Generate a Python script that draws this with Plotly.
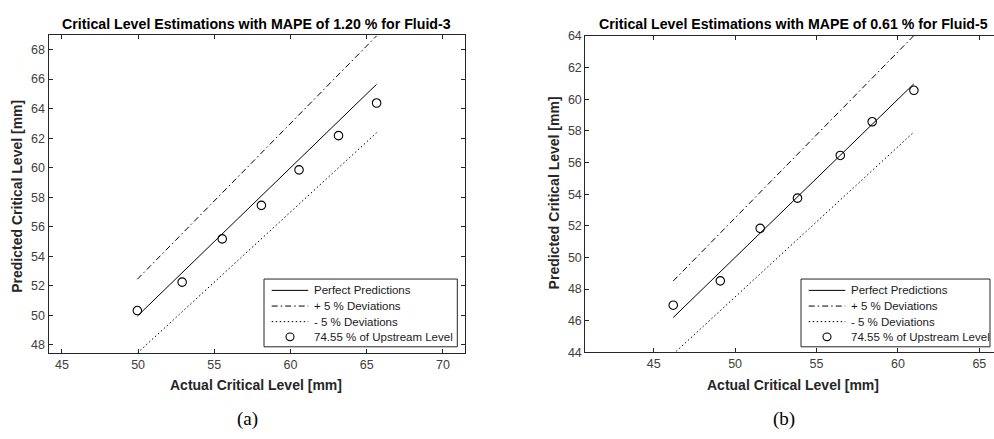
import plotly.graph_objects as go

W, H = 994, 439

# ---------------- data ----------------
# Fluid-3 (panel a)
a_actual = [49.95, 52.89, 55.52, 58.09, 60.56, 63.15, 65.65]
a_pred = [50.33, 52.25, 55.18, 57.45, 59.85, 62.17, 64.38]
a_line_x = [49.95, 65.65]
a_perfect_y = [49.95, 65.65]
a_plus_y = [52.45, 68.93]
a_minus_y = [47.45, 62.37]

# Fluid-5 (panel b)
b_actual = [46.20, 49.09, 51.54, 53.83, 56.46, 58.42, 60.98]
b_pred = [46.98, 48.52, 51.84, 53.75, 56.45, 58.58, 60.57]
b_line_x = [46.20, 60.98]
b_perfect_y = [46.20, 60.98]
b_plus_y = [48.51, 64.03]
b_minus_y = [43.89, 57.93]

a_xticks = [45, 50, 55, 60, 65, 70]
a_yticks = [48, 50, 52, 54, 56, 58, 60, 62, 64, 66, 68]
b_xticks = [45, 50, 55, 60, 65]
b_yticks = [44, 46, 48, 50, 52, 54, 56, 58, 60, 62, 64]

titles = ["Critical Level Estimations with MAPE of 1.20 % for Fluid-3",
          "Critical Level Estimations with MAPE of 0.61 % for Fluid-5"]
names = ["Perfect Predictions", "+ 5 % Deviations", "- 5 % Deviations",
         "74.55 % of Upstream Level"]
xlabel = "Actual Critical Level [mm]"
ylabel = "Predicted Critical Level [mm]"
captions = ["(a)", "(b)"]

# ---------------- helpers ----------------
def px(x):
    return x / W

def py(y):
    return 1 - y / H

FONT = "Liberation Sans, Arial, sans-serif"
AX = "#262626"
TXT = "#404040"
DASHDOT = "6px,3px,1.5px,3px"
DOT = "1.5px,2.5px"
styles = [dict(color="black", width=1),
          dict(color="black", width=1, dash=DASHDOT),
          dict(color="black", width=1, dash=DOT)]

fig = go.Figure()

def add_panel(xa, ya, lx, perf, plus, minus, act, pred):
    for yy, nm, st in zip([perf, plus, minus], names[:3], styles):
        fig.add_trace(go.Scatter(x=lx, y=yy, name=nm, mode="lines", xaxis=xa, yaxis=ya,
                                 line=st, hoverinfo="skip", showlegend=False))
    fig.add_trace(go.Scatter(x=act, y=pred, name=names[3], mode="markers",
                             xaxis=xa, yaxis=ya, showlegend=False,
                             marker=dict(symbol="circle-open", size=8.5,
                                         color="black", line=dict(width=1.1))))

add_panel("x", "y", a_line_x, a_perfect_y, a_plus_y, a_minus_y, a_actual, a_pred)
add_panel("x2", "y2", b_line_x, b_perfect_y, b_plus_y, b_minus_y, b_actual, b_pred)

axis_common = dict(showgrid=False, zeroline=False, showline=True, linecolor=AX,
                   linewidth=1, ticks="inside", ticklen=4, tickcolor=AX,
                   tickfont=dict(family=FONT, size=12.5, color=TXT))

# panel geometry (pixels)
aL, aR, aT, aB = 48.5, 465, 29, 357
bL, bR, bT, bB = 585.3, 994, 30, 356.7

fig.update_layout(
    width=W, height=H,
    margin=dict(l=0, r=0, t=0, b=0),
    paper_bgcolor="white", plot_bgcolor="white",
    showlegend=False,
    xaxis=dict(domain=[px(aL), px(aR)], range=[44.12, 71.45], tickvals=a_xticks,
               mirror="ticks", anchor="y", **axis_common),
    yaxis=dict(domain=[py(aB), py(aT)], range=[47.48, 68.98], tickvals=a_yticks,
               mirror="ticks", anchor="x", **axis_common),
    xaxis2=dict(domain=[px(bL), 1.0], range=[40.8, 65.9], tickvals=b_xticks,
                mirror="ticks", anchor="y2", **axis_common),
    yaxis2=dict(domain=[py(bB), py(bT)], range=[44, 64], tickvals=b_yticks,
                mirror=False, anchor="x2", **axis_common),
)

ann = []
shapes = []

# ---- legends (drawn as boxes with samples + text) ----
def legend_box(x0, x1, y0, y1, s0, s1, tx):
    shapes.append(dict(type="rect", xref="paper", yref="paper", layer="above",
                       x0=px(x0), x1=px(x1), y0=py(y1), y1=py(y0),
                       fillcolor="white", line=dict(color=AX, width=1)))
    rows = [y0 + 11.7, y0 + 27.9, y0 + 44.0, y0 + 59.7]
    for i in range(3):
        shapes.append(dict(type="line", xref="paper", yref="paper", layer="above",
                           x0=px(s0), x1=px(s1), y0=py(rows[i]), y1=py(rows[i]),
                           line=styles[i]))
    cx = (s0 + s1) / 2
    r = 4
    shapes.append(dict(type="circle", xref="paper", yref="paper", layer="above",
                       x0=px(cx - r), x1=px(cx + r), y0=py(rows[3] + r), y1=py(rows[3] - r),
                       line=dict(color="black", width=1.1)))
    for nm, ry in zip(names, rows):
        ann.append(dict(text=nm, x=px(tx), y=py(ry), xref="paper", yref="paper",
                        showarrow=False, xanchor="left", yanchor="middle",
                        font=dict(family=FONT, size=11.5, color="#1a1a1a")))

legend_box(264, 457.3, 281, 351, 271.7, 308.3, 312)
legend_box(801, 990, 281, 351, 808.7, 845.3, 849)

# titles
for t, cx in zip(titles, [(aL + aR) / 2, 793.5]):
    ann.append(dict(text="<b>%s</b>" % t, x=px(cx), y=py(18), xref="paper", yref="paper",
                    showarrow=False, xanchor="center", yanchor="middle",
                    font=dict(family=FONT, size=14.2, color="black")))
# x labels
for cx in [256, 793]:
    ann.append(dict(text="<b>%s</b>" % xlabel, x=px(cx), y=py(390.5), xref="paper",
                    yref="paper", showarrow=False, xanchor="center", yanchor="middle",
                    font=dict(family=FONT, size=14, color="#262626")))
# y labels
for cx, cy in [(17, 196), (553.5, 192)]:
    ann.append(dict(text="<b>%s</b>" % ylabel, x=px(cx), y=py(cy), xref="paper",
                    yref="paper", showarrow=False, xanchor="center", yanchor="middle",
                    textangle=-90,
                    font=dict(family=FONT, size=14, color="#262626")))
# captions
for c, cx in zip(captions, [247, 784]):
    ann.append(dict(text=c, x=px(cx), y=py(426), xref="paper", yref="paper",
                    showarrow=False, xanchor="center", yanchor="middle",
                    font=dict(family="Liberation Serif, serif", size=19, color="black")))

fig.update_layout(annotations=ann, shapes=shapes)

fig.write_html("out.html")
